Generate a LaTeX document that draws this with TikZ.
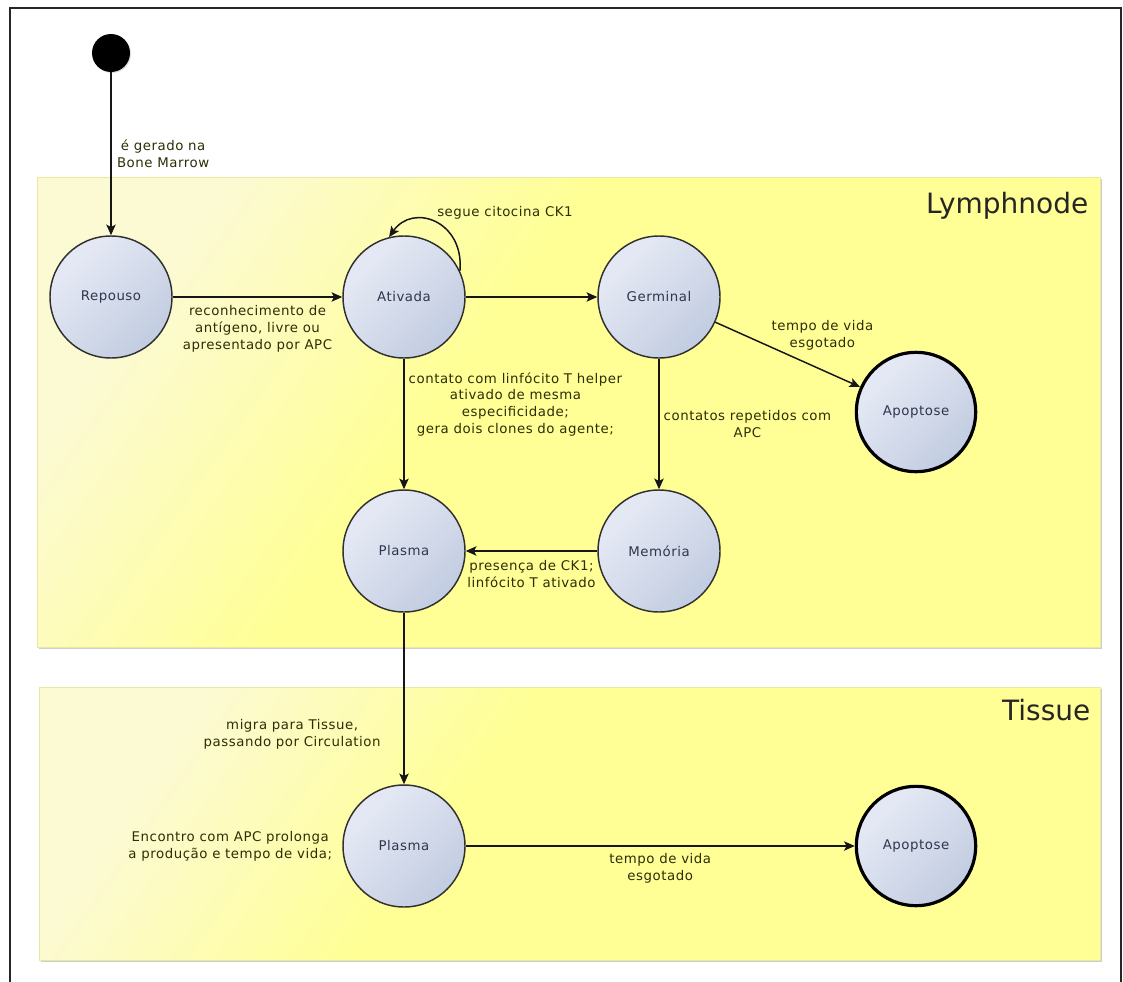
\documentclass[tikz,border=0pt]{standalone}
\usepackage{fontspec}
\setmainfont{DejaVu Sans}
\newfontfamily\lblfont[LetterSpace=4]{DejaVu Sans}
\usetikzlibrary{arrows.meta, shadows}

\definecolor{laneBase}{RGB}{255,255,150}
\definecolor{laneLight}{RGB}{252,250,210}
\definecolor{laneEdge}{RGB}{232,232,160}
\definecolor{stLight}{RGB}{228,232,244}
\definecolor{stDark}{RGB}{196,206,226}
\definecolor{stBorder}{RGB}{48,48,48}
\definecolor{lblText}{RGB}{46,46,6}
\definecolor{stText}{RGB}{48,54,76}
\definecolor{wire}{RGB}{22,22,22}

% soft highlight towards the upper-left corner of each lane
\pgfdeclarehorizontalshading{lanefill}{100bp}{color(0bp)=(laneLight); color(25bp)=(laneLight); color(43bp)=(laneBase); color(100bp)=(laneBase)}
% state bubbles: light upper-left, slightly darker lower-right
\pgfdeclarehorizontalshading{statefill}{100bp}{color(0bp)=(stLight); color(30bp)=(stLight); color(72bp)=(stDark); color(100bp)=(stDark)}

\tikzset{
  lane/.style={draw=laneEdge, line width=.4pt, shading=lanefill, shading angle=-35,
    inner sep=0pt, anchor=north west,
    drop shadow={shadow xshift=1.2pt, shadow yshift=-1.6pt, opacity=.35, fill=black!55}},
  lanetitle/.style={font=\fontsize{21}{25}\selectfont, text=black!85, inner sep=0pt, anchor=base east},
  stnode/.style={circle, draw=stBorder, line width=1.1pt, shading=statefill, shading angle=-45,
    minimum size=91.5pt, inner sep=0pt, font=\lblfont\fontsize{10}{12}\selectfont, text=stText},
  endstate/.style={stnode, draw=black, line width=2.4pt, minimum size=89.5pt},
  startdot/.style={circle, fill=black, minimum size=28.5pt, inner sep=0pt,
    drop shadow={shadow xshift=.8pt, shadow yshift=-.8pt, opacity=.25}},
  flow/.style={draw=wire, line width=1.1pt, -{Stealth[length=8pt, width=7pt, inset=1.8pt]}},
  lbl/.style={font=\lblfont\fontsize{10}{12.5}\selectfont, text=lblText, align=center, inner sep=1pt},
}

\begin{document}
\begin{tikzpicture}[x=0.75pt, y=0.75pt]
\useasboundingbox (0,0) rectangle (1123,-981);

% swimlanes
\node[lane, minimum width=797.25pt, minimum height=352.5pt] (lymph) at (37,-177) {};
\node[lane, minimum width=795.75pt, minimum height=204.75pt] (tissue) at (39,-687) {};
\node[lanetitle] (lymphtitle) at ([xshift=-9pt, yshift=-27pt]lymph.north east) {Lymphnode};
\node[lanetitle] (tissuetitle) at ([xshift=-7.5pt, yshift=-24.75pt]tissue.north east) {Tissue};

% outer frame
\draw[line width=1.1pt, draw=black!85] (10,-995) -- (10,-8) -- (1121,-8) -- (1121,-995);

% states
\node[startdot] (init) at (111,-53) {};
\node[stnode] (repouso) at (111,-297) {Repouso};
\node[stnode] (ativada) at (404,-297) {Ativada};
\node[stnode] (germinal) at (659,-297) {Germinal};
\node[endstate] (apopL) at (916,-412) {Apoptose};
\node[stnode] (plasmaL) at (404,-551) {Plasma};
\node[stnode] (memoria) at (659,-551) {Memória};
\node[stnode] (plasmaT) at (404,-846) {Plasma};
\node[endstate] (apopT) at (916,-846) {Apoptose};

% transitions
\draw[flow] (init) -- node[lbl, anchor=west, xshift=3pt] {é gerado na\\Bone Marrow} (repouso);
\draw[flow] (repouso) -- node[lbl, below=5pt] {reconhecimento de\\antígeno, livre ou\\apresentado por APC} (ativada);
\draw[flow] (ativada.25) .. controls +(85:50) and +(55:42) ..
  node[lbl, pos=0.5, anchor=south west, yshift=1pt] {segue citocina CK1} (ativada.104);
\draw[flow] (ativada) -- (germinal);
\draw[flow] (germinal) -- node[lbl, anchor=south, xshift=26pt, yshift=2pt] {tempo de vida\\esgotado} (apopL);
\draw[flow] (ativada) -- node[lbl, pos=0.09, anchor=north west, xshift=2pt]
  {contato com linfócito T helper\\ativado de mesma\\especificidade;\\gera dois clones do agente;} (plasmaL);
\draw[flow] (germinal) -- node[lbl, pos=0.38, anchor=north west, xshift=2pt] {contatos repetidos com\\APC} (memoria);
\draw[flow] (memoria) -- node[lbl, below=5.5pt] {presença de CK1;\\linfócito T ativado} (plasmaL);
\draw[flow] (plasmaL) -- node[lbl, pos=0.71, anchor=east, xshift=-16pt] {migra para Tissue,\\passando por Circulation} (plasmaT);
\draw[flow] (plasmaT) -- node[lbl, below=4pt] {tempo de vida\\esgotado} (apopT);

% activity note beside the tissue plasma state
\node[lbl, anchor=east] (encontro) at ([xshift=-6.5pt]plasmaT.west) {Encontro com APC prolonga\\a produção e tempo de vida;};
\end{tikzpicture}
\end{document}
